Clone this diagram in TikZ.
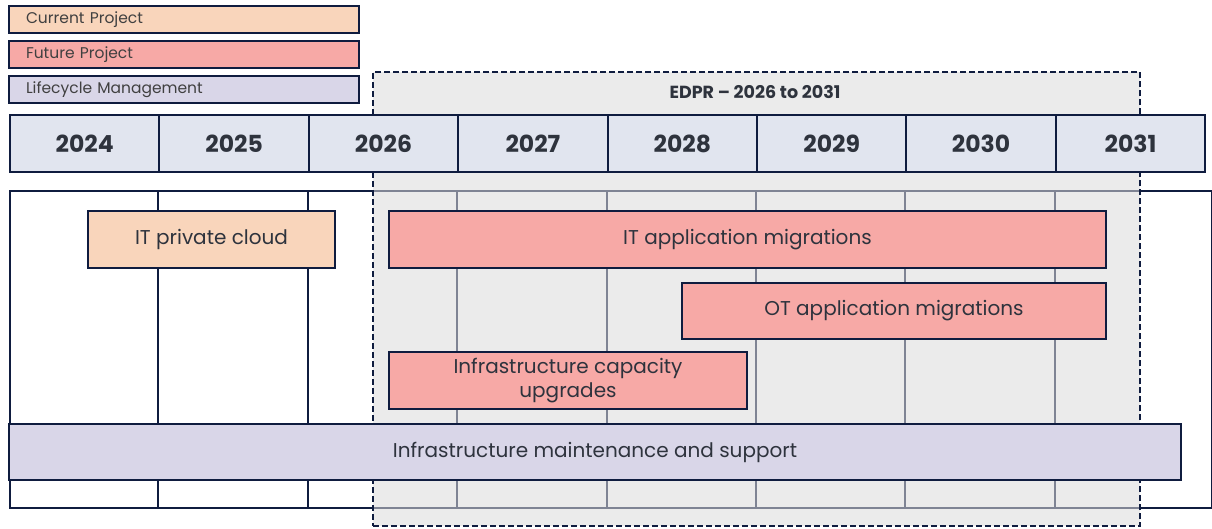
\documentclass[tikz,border=0pt]{standalone}
\usepackage{fontspec}
\setmainfont{Poppins}
\definecolor{navy}{HTML}{0F1C3F}
\definecolor{curfill}{HTML}{F9D5BB}
\definecolor{futfill}{HTML}{F7A9A6}
\definecolor{lcfill}{HTML}{D9D6E8}
\definecolor{hdrfill}{HTML}{E1E5EF}
\definecolor{txt}{HTML}{2E333D}
\definecolor{legtxt}{HTML}{404040}
\definecolor{regionfill}{HTML}{DBDBDB}
\begin{document}
\begin{tikzpicture}[x=1pt,y=-1pt,
  legendbox/.style={draw=navy, line width=2pt, anchor=north west, minimum height=27pt,
     text width=316pt, inner xsep=17pt, inner ysep=0pt, align=left, text=legtxt,
     font=\fontsize{15.5}{17}\selectfont},
  yearbox/.style={draw=navy, line width=2pt, fill=hdrfill, anchor=north west,
     minimum width=149.4pt, minimum height=57pt, inner sep=0pt, text=txt,
     font=\bfseries\fontsize{23.5}{26}\selectfont},
  gridline/.style={draw=navy, line width=2pt},
  task/.style={draw=navy, line width=2pt, inner sep=0pt, text=txt, align=center,
     font=\fontsize{20}{24}\selectfont},
  region/.style={draw=navy, line width=2pt, dash pattern=on 6pt off 3pt,
     fill=regionfill, fill opacity=0.55, draw opacity=1, anchor=north west,
     minimum width=767pt, minimum height=454pt, inner sep=0pt}
]
\useasboundingbox (0,0) rectangle (1212,528);
\fill[white] (0,0) rectangle (1212,528);

% legend
\node[legendbox, fill=curfill] (lcur) at (8,5) {Current Project};
\node[legendbox, fill=futfill] (lfut) at (8,40) {Future Project};
\node[legendbox, fill=lcfill] (llc) at (8,75) {Lifecycle Management};

% body grid
\node[draw=navy, line width=2pt, fill=white, anchor=north west, minimum width=1202pt,
  minimum height=317pt, inner sep=0pt] (body) at (9,190) {};
\foreach \i in {1,...,7} {
  \coordinate (v\i) at ({9+\i*149.4},0);
  \draw[gridline] (v\i |- body.north) -- (v\i |- body.south);
}

% EDPR region overlay
\node[region] (edpr) at (372,71) {};
\node[text=txt, font=\bfseries\fontsize{17.5}{20}\selectfont] (edprlbl) at (755,92) {EDPR – 2026 to 2031};

% header
\foreach \y [count=\i from 0] in {2024,2025,2026,2027,2028,2029,2030,2031} {
  \node[yearbox] (h\y) at ({9+\i*149.4},114) {\y};
}

% tasks
\node[task, fill=curfill, minimum width=247pt, minimum height=57pt] (tcloud) at (211.5,239.5) {IT private cloud};
\node[task, fill=futfill, minimum width=717pt, minimum height=57pt] (titapp) at (747.5,239.5) {IT application migrations};
\node[task, fill=futfill, minimum width=424pt, minimum height=56pt] (totapp) at (894,311) {OT application migrations};
\node[task, fill=futfill, minimum width=358pt, minimum height=57pt] (tinfra) at (568,380.5) {Infrastructure capacity\\upgrades};
\node[task, fill=lcfill, minimum width=1172pt, minimum height=56pt] (tmaint) at (595,452) {Infrastructure maintenance and support};
\end{tikzpicture}
\end{document}
